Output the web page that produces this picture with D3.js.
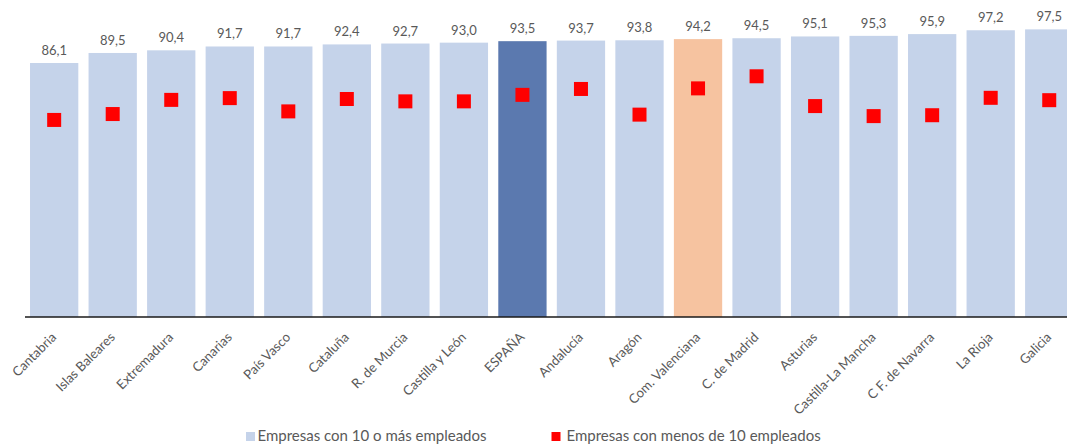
<!DOCTYPE html>
<html><head><meta charset="utf-8">
<script src="https://cdn.jsdelivr.net/npm/d3@7"></script>
<style>body{margin:0;background:#fff;} text{font-family:Lato,"Open Sans",sans-serif;}</style>
</head><body>
<svg id="c" width="1067" height="446"></svg>
<script>
const categories = ["Cantabria","Islas Baleares","Extremadura","Canarias","País Vasco","Cataluña","R. de Murcia","Castilla y León","ESPAÑA","Andalucía","Aragón","Com. Valenciana","C. de Madrid","Asturias","Castilla-La Mancha","C F. de Navarra","La Rioja","Galicia"];
const large = [86.1,89.5,90.4,91.7,91.7,92.4,92.7,93.0,93.5,93.7,93.8,94.2,94.5,95.1,95.3,95.9,97.2,97.5];
const small = [66.8,68.8,73.6,74.2,69.7,73.9,73.1,73.1,75.3,77.3,68.6,77.5,81.6,71.5,68.1,68.4,74.3,73.5];
const seriesNames = ["Empresas con 10 o más empleados","Empresas con menos de 10 empleados"];

const svg = d3.select("#c");
const x = d3.scaleBand().domain(categories).range([24.9, 1078.5]).paddingInner(0.175).paddingOuter(0.0875);
const y = d3.scaleLinear().domain([0,100]).range([317,22]);
const fill = c => c==="ESPAÑA" ? "#5B79AF" : (c==="Com. Valenciana" ? "#F6C3A0" : "#C5D3EA");

svg.append("g").selectAll("rect").data(categories).join("rect")
  .attr("x", d=>x(d)).attr("width", x.bandwidth())
  .attr("y", (d,i)=>y(large[i])).attr("height",(d,i)=>y(0)-y(large[i]))
  .attr("fill", fill);

svg.append("g").selectAll("text").data(categories).join("text")
  .attr("x", d=>x(d)+x.bandwidth()/2).attr("y",(d,i)=>y(large[i])-8)
  .attr("text-anchor","middle").attr("font-size",13).attr("fill","#595959")
  .text((d,i)=>large[i].toFixed(1).replace(".",","));

const ms = 14;
svg.append("g").selectAll("rect").data(categories).join("rect")
  .attr("x", d=>x(d)+x.bandwidth()/2-ms/2).attr("y",(d,i)=>y(small[i])-ms/2)
  .attr("width",ms).attr("height",ms).attr("fill","#FF0000");

const ax = svg.append("g").attr("transform","translate(0,317)")
  .call(d3.axisBottom(x).tickSize(0).tickFormat(""));
ax.select(".domain").attr("stroke","#1a1a1a").attr("stroke-width",1.3).attr("d","M25,0H1067");

svg.append("g").selectAll("text").data(categories).join("text")
  .attr("transform", d=>`translate(${x(d)+x.bandwidth()/2+3},338) rotate(-45)`)
  .attr("text-anchor","end").attr("font-size",13.2).attr("fill","#595959")
  .text(d=>d);

const leg = svg.append("g");
leg.append("rect").attr("x",246).attr("y",432).attr("width",9).attr("height",9).attr("fill","#C5D3EA");
leg.append("text").attr("x",257.5).attr("y",441.3).attr("fill","#595959").attr("font-size",15).text(seriesNames[0]);
leg.append("rect").attr("x",551.5).attr("y",432).attr("width",9).attr("height",9).attr("fill","#FF0000");
leg.append("text").attr("x",566.5).attr("y",441.3).attr("fill","#595959").attr("font-size",15).text(seriesNames[1]);
</script>
</body></html>
